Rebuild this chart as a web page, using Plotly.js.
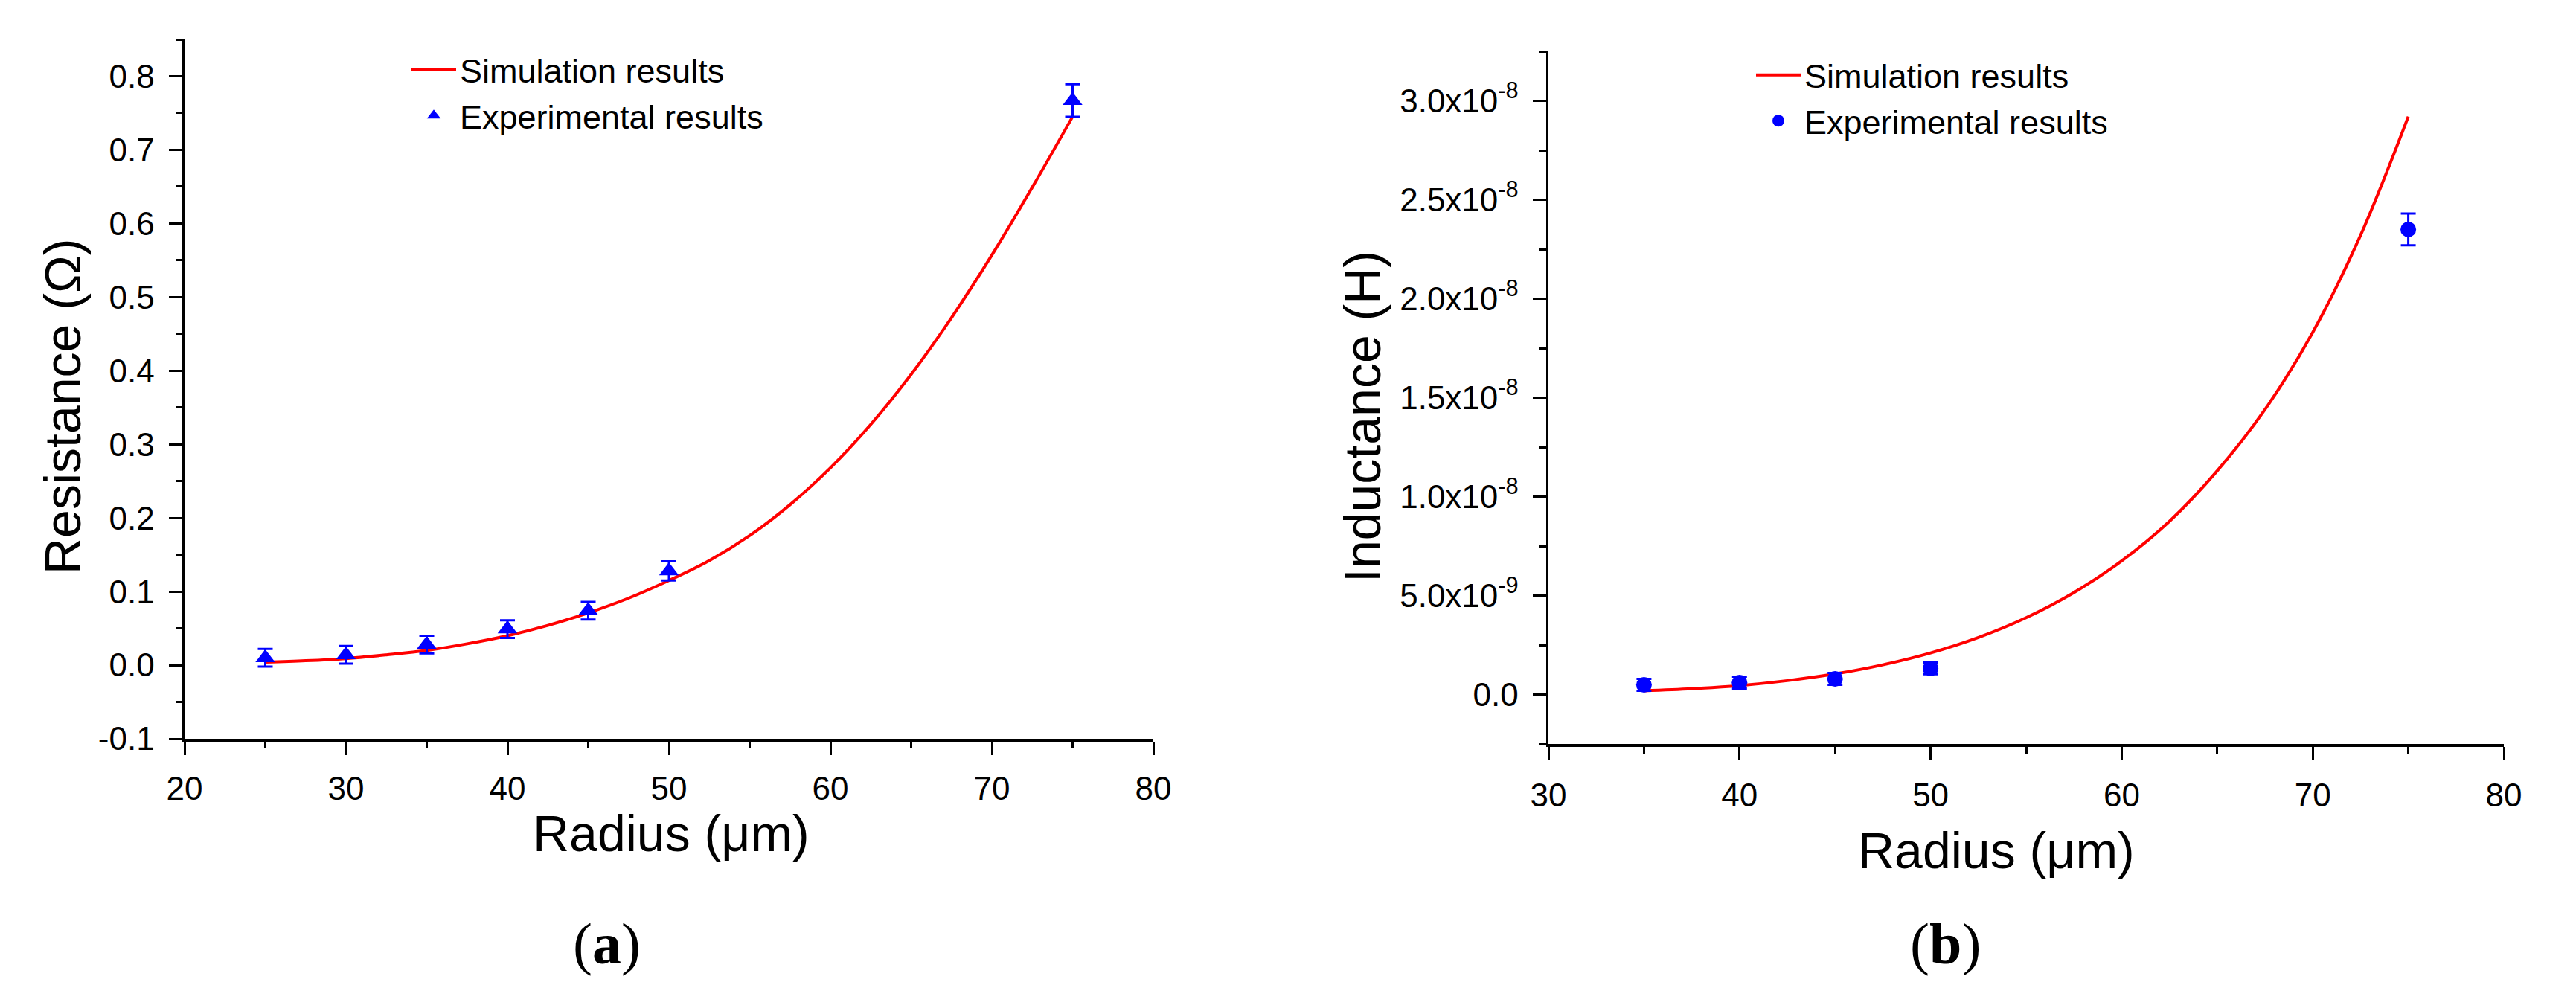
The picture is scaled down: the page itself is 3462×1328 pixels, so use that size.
<!DOCTYPE html>
<html>
<head>
<meta charset="utf-8">
<script src="https://cdn.plot.ly/plotly-3.0.1.min.js"></script>
<style>
  html, body { margin: 0; padding: 0; background: #ffffff; }
  #chart { width: 3462px; height: 1328px; }
</style>
</head>
<body>
<div id="chart"></div>
<script>
// ---------- Panel (a): Resistance ----------
const radiusExpA = [25, 30, 35, 40, 45, 50, 75];
const resistanceExp = [0.010, 0.014, 0.028, 0.049, 0.074, 0.128, 0.767];
const resistanceErr = [0.012, 0.012, 0.012, 0.012, 0.012, 0.013, 0.022];

const radiusSimA = [25, 27.5, 30, 32.5, 35, 37.5, 40, 42.5, 45, 47.5, 50, 52.5, 55, 57.5, 60, 62.5, 65, 67.5, 70, 72.5, 75];
const resistanceSim = [0.004, 0.006, 0.009, 0.014, 0.020, 0.029, 0.040, 0.054, 0.071, 0.091, 0.115, 0.142, 0.176, 0.218, 0.268, 0.327, 0.395, 0.472, 0.557, 0.649, 0.745];

const xTicksA = [20, 30, 40, 50, 60, 70, 80];
const xTickTextA = ['20', '30', '40', '50', '60', '70', '80'];
const yTicksA = [-0.1, 0.0, 0.1, 0.2, 0.3, 0.4, 0.5, 0.6, 0.7, 0.8];
const yTickTextA = ['-0.1', '0.0', '0.1', '0.2', '0.3', '0.4', '0.5', '0.6', '0.7', '0.8'];

// ---------- Panel (b): Inductance ----------
const radiusExpB = [35, 40, 45, 50, 75];
const inductanceExp = [0.49e-9, 0.60e-9, 0.79e-9, 1.32e-9, 23.5e-9];
const inductanceErr = [0.3e-9, 0.3e-9, 0.3e-9, 0.3e-9, 0.8e-9];

const radiusSimB = [35, 37.5, 40, 42.5, 45, 47.5, 50, 52.5, 55, 57.5, 60, 62.5, 65, 67.5, 70, 72.5, 75];
const inductanceSim = [0.19e-9, 0.29e-9, 0.45e-9, 0.70e-9, 1.04e-9, 1.50e-9, 2.10e-9, 2.88e-9, 3.88e-9, 5.15e-9, 6.75e-9, 8.75e-9, 11.3e-9, 14.4e-9, 18.3e-9, 23.2e-9, 29.2e-9];

const xTicksB = [30, 40, 50, 60, 70, 80];
const xTickTextB = ['30', '40', '50', '60', '70', '80'];
const yTicksB = [0, 5e-9, 1.0e-8, 1.5e-8, 2.0e-8, 2.5e-8, 3.0e-8];
const yTickTextB = ['0.0', '5.0x10<sup>-9</sup>', '1.0x10<sup>-8</sup>', '1.5x10<sup>-8</sup>', '2.0x10<sup>-8</sup>', '2.5x10<sup>-8</sup>', '3.0x10<sup>-8</sup>'];
const yMinorB = [-2.5e-9, 2.5e-9, 7.5e-9, 1.25e-8, 1.75e-8, 2.25e-8, 2.75e-8, 3.25e-8];

const seriesNames = ['Simulation results', 'Experimental results'];
const panelLabels = ['(<b>a</b>)', '(<b>b</b>)'];
const axisTitles = ['Resistance (Ω)', 'Radius (μm)', 'Inductance (H)', 'Radius (μm)'];

// ---------- styling ----------
const W = 3462, H = 1328;
const FONT = 'Liberation Sans, Arial, sans-serif';
const SERIF = 'Liberation Serif, DejaVu Serif, serif';
const RED = '#ff0000';
const BLUE = '#0000ff';

const traces = [
  { x: radiusSimA, y: resistanceSim, type: 'scatter', mode: 'lines', name: seriesNames[0],
    line: { color: RED, width: 4, shape: 'spline', smoothing: 1 }, xaxis: 'x', yaxis: 'y', legend: 'legend' },
  { x: radiusExpA, y: resistanceExp, type: 'scatter', mode: 'markers', name: seriesNames[1],
    marker: { symbol: 'triangle-up', size: 23, color: BLUE },
    error_y: { type: 'data', array: resistanceErr, visible: true, color: BLUE, thickness: 3, width: 10 },
    xaxis: 'x', yaxis: 'y', legend: 'legend' },
  { x: radiusSimB, y: inductanceSim, type: 'scatter', mode: 'lines', name: seriesNames[0],
    line: { color: RED, width: 4, shape: 'spline', smoothing: 1 }, xaxis: 'x2', yaxis: 'y2', legend: 'legend2' },
  { x: radiusExpB, y: inductanceExp, type: 'scatter', mode: 'markers', name: seriesNames[1],
    marker: { symbol: 'circle', size: 21, color: BLUE },
    error_y: { type: 'data', array: inductanceErr, visible: true, color: BLUE, thickness: 3, width: 10 },
    xaxis: 'x2', yaxis: 'y2', legend: 'legend2' }
];

function axisBase(extra) {
  return Object.assign({
    showgrid: false, zeroline: false, showline: true, linecolor: '#000', linewidth: 3.5,
    ticks: 'outside', ticklen: 18, tickwidth: 3, tickcolor: '#000',
    tickfont: { family: FONT, size: 44, color: '#000' },
    mirror: false, fixedrange: true
  }, extra);
}

const legendBase = {
  xanchor: 'left', yanchor: 'top', bgcolor: 'rgba(0,0,0,0)', borderwidth: 0,
  font: { family: FONT, size: 45, color: '#000' }, tracegroupgap: 0, itemwidth: 60
};

const layout = {
  width: W, height: H,
  margin: { l: 0, r: 0, t: 0, b: 0 },
  paper_bgcolor: '#ffffff', plot_bgcolor: '#ffffff',
  showlegend: true,
  xaxis: axisBase({ domain: [248 / W, 1550 / W], range: [20, 80], anchor: 'y',
    tickmode: 'array', tickvals: xTicksA, ticktext: xTickTextA, ticklabelstandoff: 8,
    minor: { tickmode: 'linear', tick0: 25, dtick: 10, ticklen: 9, tickwidth: 3, tickcolor: '#000', ticks: 'outside' } }),
  yaxis: axisBase({ domain: [1 - 993 / H, 1 - 53 / H], range: [-0.1, 0.85], anchor: 'x',
    tickmode: 'array', tickvals: yTicksA, ticktext: yTickTextA, ticklabelstandoff: 10,
    minor: { tickmode: 'linear', tick0: -0.05, dtick: 0.1, ticklen: 9, tickwidth: 3, tickcolor: '#000', ticks: 'outside' } }),
  xaxis2: axisBase({ domain: [2081 / W, 3365 / W], range: [30, 80], anchor: 'y2',
    tickmode: 'array', tickvals: xTicksB, ticktext: xTickTextB, ticklabelstandoff: 10,
    minor: { tickmode: 'linear', tick0: 35, dtick: 10, ticklen: 9, tickwidth: 3, tickcolor: '#000', ticks: 'outside' } }),
  yaxis2: axisBase({ domain: [1 - 1000 / H, 1 - 69 / H], range: [-2.5e-9, 3.25e-8], anchor: 'x2',
    tickmode: 'array', tickvals: yTicksB, ticktext: yTickTextB, ticklabelstandoff: 10,
    minor: { tickmode: 'array', tickvals: yMinorB, ticklen: 9, tickwidth: 3, tickcolor: '#000', ticks: 'outside' } }),
  legend: Object.assign({ x: 548 / W, y: 1 - 58 / H }, legendBase),
  legend2: Object.assign({ x: 2355 / W, y: 1 - 65 / H }, legendBase),
  annotations: [
    { text: axisTitles[0], xref: 'paper', yref: 'paper', x: 84 / W, y: 1 - 547 / H, textangle: -90,
      showarrow: false, xanchor: 'center', yanchor: 'middle', font: { family: FONT, size: 68, color: '#000' } },
    { text: axisTitles[1], xref: 'paper', yref: 'paper', x: 902 / W, y: 1 - 1120 / H,
      showarrow: false, xanchor: 'center', yanchor: 'middle', font: { family: FONT, size: 68, color: '#000' } },
    { text: axisTitles[2], xref: 'paper', yref: 'paper', x: 1831 / W, y: 1 - 560 / H, textangle: -90,
      showarrow: false, xanchor: 'center', yanchor: 'middle', font: { family: FONT, size: 68, color: '#000' } },
    { text: axisTitles[3], xref: 'paper', yref: 'paper', x: 2683 / W, y: 1 - 1143 / H,
      showarrow: false, xanchor: 'center', yanchor: 'middle', font: { family: FONT, size: 68, color: '#000' } },
    { text: panelLabels[0], xref: 'paper', yref: 'paper', x: 815 / W, y: 1 - 1268 / H,
      showarrow: false, xanchor: 'center', yanchor: 'middle', font: { family: SERIF, size: 78, color: '#000' } },
    { text: panelLabels[1], xref: 'paper', yref: 'paper', x: 2614 / W, y: 1 - 1268 / H,
      showarrow: false, xanchor: 'center', yanchor: 'middle', font: { family: SERIF, size: 78, color: '#000' } }
  ]
};

Plotly.newPlot('chart', traces, layout, { staticPlot: true, displayModeBar: false });
</script>
</body>
</html>
